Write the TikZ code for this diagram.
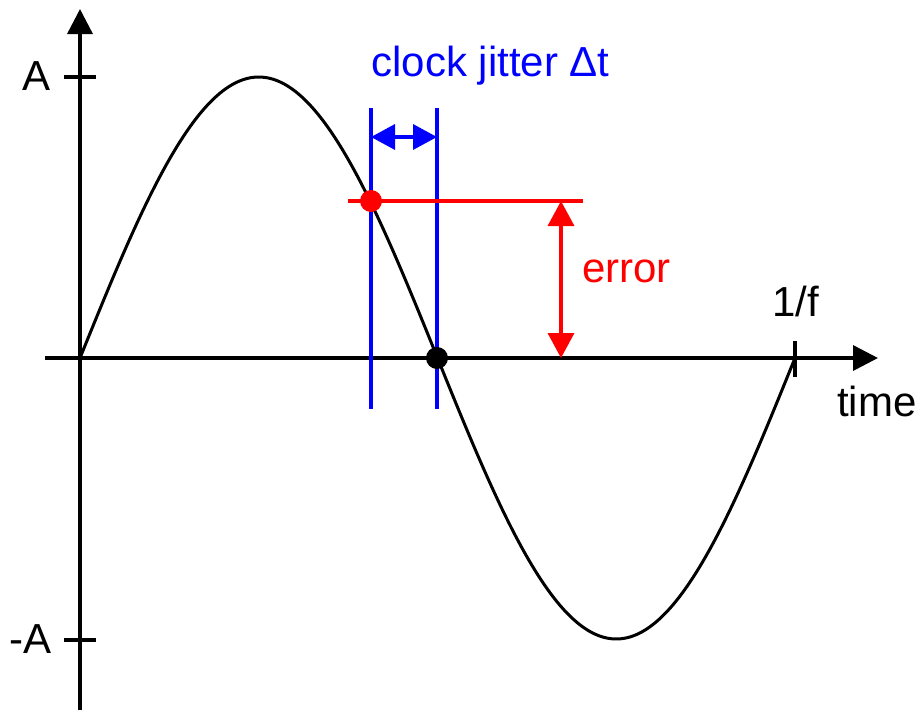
\documentclass[tikz,border=0pt]{standalone}
\usepackage{fontspec}
\setmainfont{Liberation Sans}
\usetikzlibrary{arrows.meta}
\begin{document}
\begin{tikzpicture}[x=1pt,y=-1pt,
  axis/.style={line width=3.5pt,-{Triangle[length=25pt,width=25pt]}},
  tck/.style={line width=3.5pt},
  jit/.style={blue,line width=3.5pt},
  lbl/.style={font=\fontsize{42}{48}\selectfont,inner sep=0pt,anchor=base},
  dot/.style={circle,inner sep=0pt,minimum size=22pt}]
\useasboundingbox (0,0) rectangle (921,710);
% axes
\coordinate (ybot) at (80,710);
\coordinate (ytop) at (80,9);
\coordinate (xl) at (45,358);
\coordinate (xr) at (878,358);
\draw[axis] (ybot) -- (ytop);
\draw[axis] (xl) -- (xr);
% ticks
\coordinate (ta1) at (64,77); \coordinate (ta2) at (96,77);
\coordinate (tb1) at (64,640); \coordinate (tb2) at (96,640);
\coordinate (tf1) at (795,341); \coordinate (tf2) at (795,377);
\draw[tck] (ta1) -- (ta2);
\draw[tck] (tb1) -- (tb2);
\draw[tck] (tf1) -- (tf2);
\node[lbl] (A) at (37,90) {A};
\node[lbl] (mA) at (30.5,653) {-A};
\node[lbl] (f) at (795.5,316) {1/f};
\node[lbl,anchor=base west] (time) at (837,416) {time};
% sine
\draw[line width=3pt] plot[domain=0:360,samples=150,smooth] ({80+1.986111*\x},{358-281*sin(\x)});
% jitter lines
\coordinate (j1t) at (371,108); \coordinate (j1b) at (371,409);
\coordinate (j2t) at (437,108); \coordinate (j2b) at (437,409);
\draw[jit] (j1t) -- (j1b);
\draw[jit] (j2t) -- (j2b);
\coordinate (ja) at (371,137); \coordinate (jb) at (437,137);
\draw[blue,line width=3.5pt,{Triangle[length=24pt,width=25pt]}-{Triangle[length=24pt,width=25pt]}] (ja) -- (jb);
\node[lbl,text=blue] (cj) at (490.5,76) {clock jitter Δt};
% error
\coordinate (el) at (348,201); \coordinate (er) at (583,201);
\draw[red,line width=3.5pt] (el) -- (er);
\coordinate (ea) at (561,201); \coordinate (eb) at (561,358);
\draw[red,line width=3.5pt,{Triangle[length=25pt,width=26pt]}-{Triangle[length=25pt,width=26pt]}] (ea) -- (eb);
\node[lbl,text=red] (err) at (626.5,282) {error};
% dots
\node[dot,fill=red] (rd) at (371,201) {};
\node[dot,fill=black] (bd) at (437,358) {};
\end{tikzpicture}
\end{document}
